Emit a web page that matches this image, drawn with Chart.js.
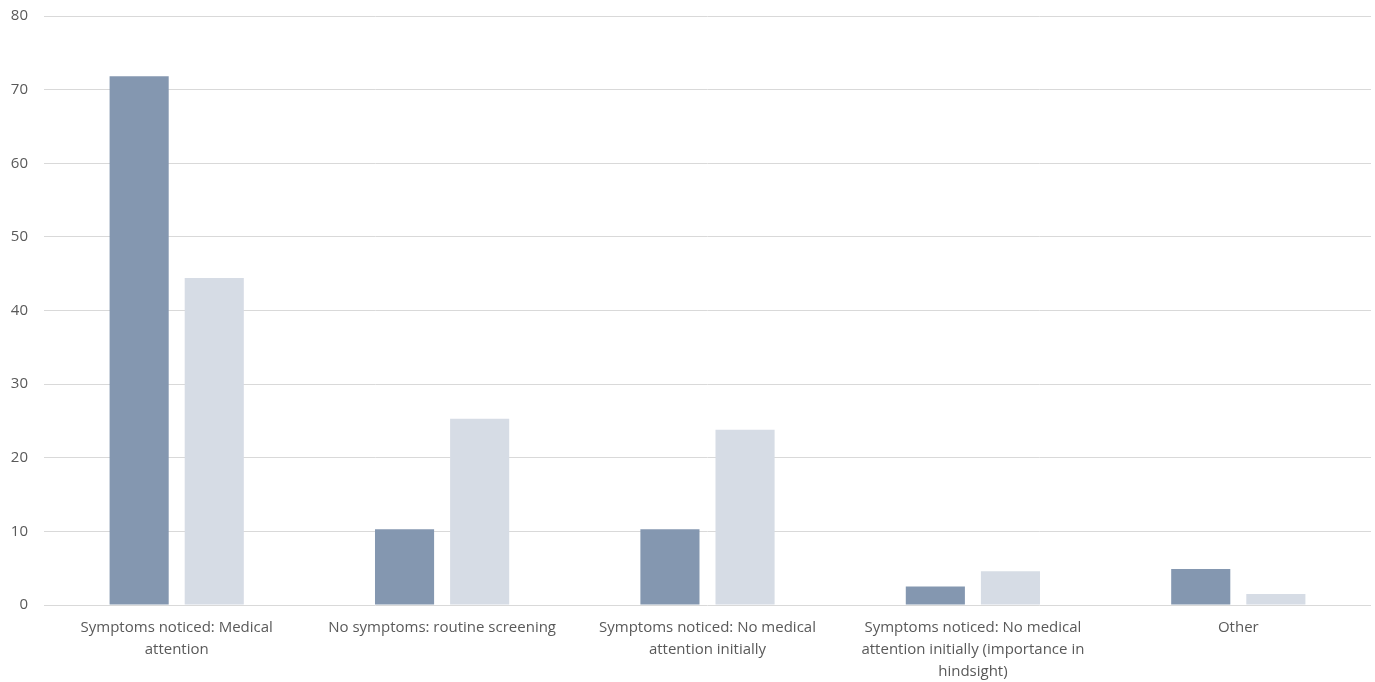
<!DOCTYPE html>
<html>
<head>
<meta charset="utf-8">
<script src="https://cdn.jsdelivr.net/npm/chart.js@4/dist/chart.umd.min.js"></script>
<style>
  html, body { margin: 0; padding: 0; background: #ffffff; }
  #wrap { width: 1375px; height: 682px; }
</style>
</head>
<body>
<div id="wrap"><canvas id="chart" width="1375" height="682"></canvas></div>
<script>
// Categories (multi-line labels as arrays)
const categories = [
  ["Symptoms noticed: Medical", "attention"],
  "No symptoms: routine screening",
  ["Symptoms noticed: No medical", "attention initially"],
  ["Symptoms noticed: No medical", "attention initially (importance in", "hindsight)"],
  "Other"
];

// Series values (percent)
const seriesA = [71.8, 10.3, 10.3, 2.5, 4.9];
const seriesB = [44.4, 25.3, 23.8, 4.6, 1.5];

// Y-axis ticks
const yTicks = [0, 10, 20, 30, 40, 50, 60, 70, 80];

const textColor = "#595959";
const fontFamily = "'Open Sans', Lato, 'Liberation Sans', sans-serif";

new Chart(document.getElementById("chart"), {
  type: "bar",
  data: {
    labels: categories,
    datasets: [
      { label: "Series 1", data: seriesA, backgroundColor: "#8497B0", borderWidth: 0 },
      { label: "Series 2", data: seriesB, backgroundColor: "#D6DCE5", borderWidth: 0 }
    ]
  },
  options: {
    responsive: false,
    animation: false,
    events: [],
    layout: { padding: { top: 16, right: 4, left: 0, bottom: 0 } },
    categoryPercentage: 0.566,
    barPercentage: 0.787,
    plugins: {
      legend: { display: false },
      tooltip: { enabled: false }
    },
    scales: {
      x: {
        grid: { display: false, drawTicks: false },
        border: { display: false },
        ticks: {
          color: textColor,
          font: { family: fontFamily, size: 15, lineHeight: 1.467 },
          padding: 12,
          maxRotation: 0,
          autoSkip: false
        },
        afterFit: (scale) => {
          scale.height = 77;
          scale.paddingTop = 0;
          scale.paddingBottom = 0;
        }
      },
      y: {
        min: 0,
        max: 80,
        afterBuildTicks: (scale) => { scale.ticks = yTicks.map(v => ({ value: v })); },
        grid: { color: "#D9D9D9", lineWidth: 1, drawTicks: false },
        border: { display: false },
        ticks: {
          color: textColor,
          font: { family: fontFamily, size: 15 },
          padding: 16
        },
        afterFit: (scale) => {
          scale.width = 44;
          scale.paddingTop = 0;
          scale.paddingBottom = 0;
        }
      }
    }
  }
});
</script>
</body>
</html>
